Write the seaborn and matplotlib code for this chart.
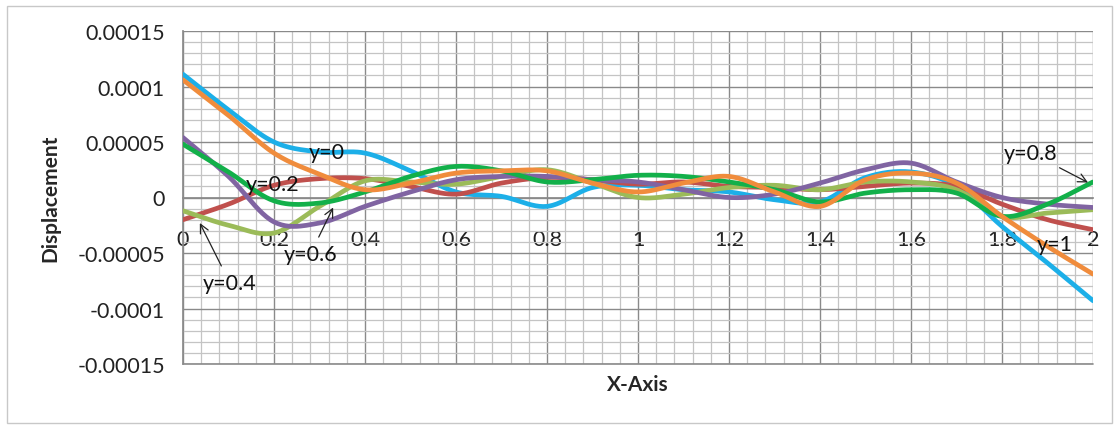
import numpy as np
import pandas as pd
import matplotlib
matplotlib.use("Agg")
import matplotlib.pyplot as plt
from matplotlib.ticker import MultipleLocator, FixedLocator
from matplotlib.patches import Rectangle
import seaborn as sns

# ---- data (displacement in units of 1e-5) ----
x_axis = [0.0, 0.1, 0.2, 0.3, 0.4, 0.5, 0.6, 0.7, 0.8, 0.9, 1.0,
          1.1, 1.2, 1.3, 1.4, 1.5, 1.6, 1.7, 1.8, 1.9, 2.0]
disp_y00 = [11.1, 7.9, 5.0, 4.1, 4.0, 2.4, 0.5, 0.1, -0.8, 0.9, 1.1,
            0.7, 0.5, -0.2, -0.4, 1.8, 2.3, 1.0, -2.6, -5.9, -9.3]
disp_y02 = [-2.0, -0.6, 1.1, 1.7, 1.7, 1.0, 0.3, 1.3, 1.8, 1.6, 1.2,
            1.4, 1.0, 0.9, 0.7, 1.0, 1.3, 1.0, -0.6, -2.0, -2.9]
disp_y04 = [-1.2, -2.5, -3.2, -0.8, 1.5, 1.4, 1.2, 1.9, 2.5, 1.3, 0.0,
            0.3, 0.9, 1.1, 0.7, 1.4, 1.4, 0.7, -1.7, -1.4, -1.1]
disp_y06 = [5.4, 1.9, -2.2, -2.3, -0.8, 0.5, 1.6, 1.9, 1.9, 1.6, 1.4,
            0.7, 0.0, 0.3, 1.3, 2.5, 3.1, 1.4, 0.0, -0.6, -0.9]
disp_y08 = [4.8, 2.3, -0.3, -0.5, 0.5, 1.9, 2.8, 2.4, 1.4, 1.6, 2.0,
            1.9, 1.4, 0.7, -0.4, 0.4, 0.7, 0.4, -1.7, -0.6, 1.4]
disp_y10 = [10.6, 7.4, 4.0, 2.1, 0.7, 1.3, 2.2, 2.4, 2.4, 1.3, 0.5,
            1.3, 1.9, 0.5, -0.8, 1.6, 2.2, 1.3, -1.7, -4.4, -6.9]
scale = 1e-5

series_names = ["y=0", "y=0.2", "y=0.4", "y=0.6", "y=0.8", "y=1"]
series_values = [disp_y00, disp_y02, disp_y04, disp_y06, disp_y08, disp_y10]
series_colors = ["#1CAFE8", "#C0504D", "#9BBB59", "#8064A2", "#12B04A", "#F08C3C"]

x_ticks = [0, 0.2, 0.4, 0.6, 0.8, 1.0, 1.2, 1.4, 1.6, 1.8, 2.0]
x_tick_labels = ["0", "0.2", "0.4", "0.6", "0.8", "1", "1.2", "1.4", "1.6", "1.8", "2"]
y_ticks = [0.00015, 0.0001, 0.00005, 0, -0.00005, -0.0001, -0.00015]
y_tick_labels = ["0.00015", "0.0001", "0.00005", "0", "-0.00005", "-0.0001", "-0.00015"]


def smooth(xs, ys, steps=24):
    """Catmull-Rom curve through the points (spreadsheet-style smoothed line)."""
    xs = np.asarray(xs, float)
    ys = np.asarray(ys, float)
    px = np.concatenate([[2 * xs[0] - xs[1]], xs, [2 * xs[-1] - xs[-2]]])
    py = np.concatenate([[2 * ys[0] - ys[1]], ys, [2 * ys[-1] - ys[-2]]])
    out_x, out_y = [], []
    t = np.linspace(0, 1, steps, endpoint=False)
    for i in range(1, len(px) - 2):
        for arr, out in ((px, out_x), (py, out_y)):
            p0, p1, p2, p3 = arr[i - 1], arr[i], arr[i + 1], arr[i + 2]
            out.extend(0.5 * ((2 * p1) + (-p0 + p2) * t
                              + (2 * p0 - 5 * p1 + 4 * p2 - p3) * t ** 2
                              + (-p0 + 3 * p1 - 3 * p2 + p3) * t ** 3))
    out_x.append(xs[-1])
    out_y.append(ys[-1])
    return np.array(out_x), np.array(out_y)


frames = []
for name, vals in zip(series_names, series_values):
    sx, sy = smooth(x_axis, np.array(vals) * scale)
    frames.append(pd.DataFrame({"x": sx, "disp": sy, "series": name}))
df = pd.concat(frames, ignore_index=True)

sns.set_theme(style="white")
plt.rcParams["font.family"] = ["Lato", "DejaVu Sans"]

fig = plt.figure(figsize=(11.19, 4.27), dpi=100)
ax = fig.add_axes([183 / 1119, 62 / 427, 910 / 1119, 333 / 427])

# outer chart border
fig.patches.append(Rectangle((7 / 1119, 3 / 427), 1105 / 1119, 417 / 427,
                             transform=fig.transFigure, fill=False,
                             edgecolor="#c8c8c8", linewidth=1.0, zorder=0))

ax.set_xlim(0, 2)
ax.set_ylim(-0.00015, 0.00015)

# grid: minor then major
ax.xaxis.set_minor_locator(MultipleLocator(0.04))
ax.yaxis.set_minor_locator(MultipleLocator(0.00001))
ax.xaxis.set_major_locator(FixedLocator(x_ticks))
ax.yaxis.set_major_locator(FixedLocator(y_ticks))
ax.grid(which="minor", color="#c4c4c4", linewidth=0.9)
ax.grid(which="major", color="#8a8a8a", linewidth=1.0)
ax.set_axisbelow(True)

sns.lineplot(data=df, x="x", y="disp", hue="series", hue_order=series_names,
             palette=series_colors, linewidth=3.4, sort=False, estimator=None,
             units="series", legend=False, ax=ax, zorder=3)
for line in ax.get_lines():
    line.set_solid_capstyle("round")

ax.set_xticklabels(x_tick_labels)
ax.set_yticklabels(y_tick_labels)
ax.tick_params(axis="both", which="both", length=0)
ax.tick_params(axis="x", labelsize=15.5, pad=23, colors="#222222")
ax.tick_params(axis="y", labelsize=15.5, pad=13, colors="#222222")

for side in ["top", "right"]:
    ax.spines[side].set_visible(False)
ax.spines["left"].set_color("#8a8a8a")
ax.spines["bottom"].set_position(("data", 0))
ax.spines["bottom"].set_color("#8a8a8a")
ax.axhline(-0.00015, color="#8a8a8a", linewidth=1.2, clip_on=False, zorder=1)

ax.set_xlabel("")
ax.set_ylabel("Displacement", fontsize=15, fontweight="bold", labelpad=12)
fig.text(638 / 1119, 1 - 385 / 427, "X-Axis", fontsize=15, fontweight="bold",
         ha="center", va="center")

# series labels
txt = dict(fontsize=15.5, color="#111111", ha="center", va="center", zorder=5)
arrow = dict(arrowstyle="->", color="#222222", linewidth=0.9, shrinkA=3, shrinkB=0)
ax.text(0.316, 4.1e-5, "y=0", **txt)
ax.text(0.196, 1.2e-5, "y=0.2", **txt)
ax.annotate("y=0.4", xy=(0.037, -2.3e-5), xytext=(0.103, -7.7e-5),
            arrowprops=arrow, **txt)
ax.annotate("y=0.6", xy=(0.33, -0.9e-5), xytext=(0.28, -5.1e-5),
            arrowprops=arrow, **txt)
ax.annotate("y=0.8", xy=(1.989, 1.35e-5), xytext=(1.862, 4.05e-5),
            arrowprops=arrow, **txt)
ax.text(1.916, -4.2e-5, "y=1", **txt)

fig.savefig("out.png", dpi=100)
